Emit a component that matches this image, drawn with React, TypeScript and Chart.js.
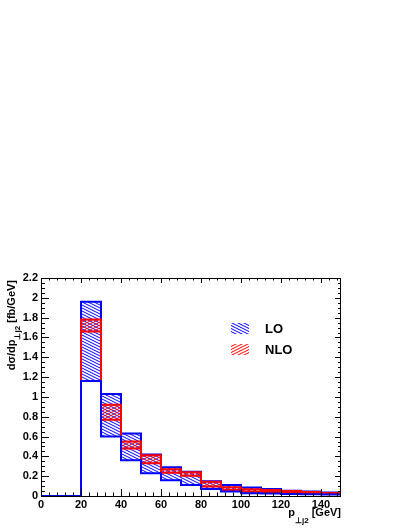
import React, { useEffect, useRef } from 'react';
import { Chart, registerables } from 'chart.js';

Chart.register(...registerables);

// Histogram bin edges (GeV)
const BIN_EDGES = [0, 10, 20, 30, 40, 50, 60, 70, 80, 90, 100, 110, 120, 130, 140, 150];
// LO band (upper / lower edge), fb/GeV
const LO_UP = [0, 0, 1.96, 1.03, 0.63, 0.42, 0.29, 0.245, 0.15, 0.11, 0.085, 0.07, 0.054, 0.045, 0.035];
const LO_LOW = [0, 0, 1.16, 0.6, 0.36, 0.23, 0.16, 0.11, 0.07, 0.045, 0.028, 0.025, 0.02, 0.018, 0.015];
// NLO band (upper / lower edge), fb/GeV
const NLO_UP = [0, 0, 1.78, 0.92, 0.55, 0.41, 0.27, 0.24, 0.145, 0.088, 0.068, 0.06, 0.05, 0.04, 0.03];
const NLO_LOW = [0, 0, 1.66, 0.77, 0.48, 0.33, 0.235, 0.205, 0.095, 0.06, 0.045, 0.04, 0.035, 0.03, 0.025];
// Axis tick labels
const X_TICKS = [0, 20, 40, 60, 80, 100, 120, 140];
const Y_TICKS = ['0', '0.2', '0.4', '0.6', '0.8', '1', '1.2', '1.4', '1.6', '1.8', '2', '2.2'];
const LEGEND_LABELS = ['LO', 'NLO'];

const BLUE = 'rgb(0,0,255)';
const RED = 'rgb(255,0,0)';
const FONT = '"Liberation Sans", Arial, Helvetica, sans-serif';

function makeHatch(ctx: CanvasRenderingContext2D, color: string, dir: 'back' | 'fwd') {
  const w = 6, h = 3;
  const c = document.createElement('canvas');
  c.width = w;
  c.height = h;
  const g = c.getContext('2d')!;
  g.strokeStyle = color;
  g.lineWidth = 1;
  g.beginPath();
  const seg = (x1: number, y1: number, x2: number, y2: number) => { g.moveTo(x1, y1); g.lineTo(x2, y2); };
  if (dir === 'back') {
    for (let k = -1; k <= 1; k++) seg(-2, -1 + k * h, w + 2, w / 2 + 1 + k * h);
  } else {
    for (let k = -1; k <= 1; k++) seg(-2, h + 1 + k * h, w + 2, h - w / 2 - 1 + k * h);
  }
  g.stroke();
  return ctx.createPattern(c, 'repeat')!;
}

const bandData = (low: number[], up: number[]) =>
  low.map((l, i) => ({ x: (BIN_EDGES[i] + BIN_EDGES[i + 1]) / 2, y: [l, up[i]] }));

const stepData = (vals: number[]) =>
  BIN_EDGES.map((e, i) => ({ x: e, y: vals[Math.min(i, vals.length - 1)] }));

export default function App() {
  const ref = useRef<HTMLCanvasElement>(null);

  useEffect(() => {
    document.body.style.margin = '0';
    const canvas = ref.current!;
    const ctx = canvas.getContext('2d')!;
    const blueHatch = makeHatch(ctx, BLUE, 'back');
    const redHatch = makeHatch(ctx, RED, 'fwd');

    const decor = {
      id: 'rootDecor',
      afterDraw(chart: any) {
        const c = chart.ctx as CanvasRenderingContext2D;
        const a = chart.chartArea;
        const xs = chart.scales.x;
        const ys = chart.scales.y;
        const L = Math.round(a.left), R = Math.round(a.right);
        const T = Math.round(a.top), B = Math.round(a.bottom);
        c.save();
        c.strokeStyle = '#000';
        c.lineWidth = 1;
        c.strokeRect(L + 0.5, T + 0.5, R - L - 1, B - T);
        c.beginPath();
        for (let i = 0; i * 4 <= 150; i++) {
          const v = i * 4;
          const px = Math.round(xs.getPixelForValue(v)) + 0.5;
          const major = v % 20 === 0;
          c.moveTo(px, B); c.lineTo(px, B - (major ? 7 : 3.5));
          c.moveTo(px, T); c.lineTo(px, T + (major ? 5 : 2.5));
        }
        for (let i = 0; i <= 44; i++) {
          const v = i * 0.05;
          const py = Math.round(ys.getPixelForValue(v)) + 0.5;
          const major = i % 4 === 0;
          c.moveTo(L, py); c.lineTo(L + (major ? 8 : 4), py);
          c.moveTo(R, py); c.lineTo(R - (major ? 6 : 3), py);
        }
        c.stroke();

        // Legend
        const lx = 231, lw = 18, lh = 11;
        const items = [
          { label: LEGEND_LABELS[0], pat: blueHatch, y: 323 },
          { label: LEGEND_LABELS[1], pat: redHatch, y: 344 },
        ];
        c.font = `bold 13px ${FONT}`;
        c.textBaseline = 'middle';
        c.textAlign = 'left';
        items.forEach((it) => {
          c.fillStyle = it.pat as any;
          c.fillRect(lx, it.y, lw, lh);
          c.fillStyle = '#000';
          c.fillText(it.label, 265, it.y + lh / 2 + 1);
        });

        // Axis titles with subscripts
        const main = `bold 11px ${FONT}`;
        const sub = `bold 8px ${FONT}`;
        c.textBaseline = 'alphabetic';
        c.fillStyle = '#000';
        c.font = main;
        const p1 = 'p';
        const p3 = ' [GeV]';
        const w1 = c.measureText(p1).width;
        const w3 = c.measureText(p3).width;
        c.font = sub;
        const p2 = '\u22a5j2';
        const w2 = c.measureText(p2).width;
        const x0 = R - (w1 + w2 + w3);
        c.font = main;
        c.fillText(p1, x0, 516);
        c.font = sub;
        c.fillText(p2, x0 + w1, 523);
        c.font = main;
        c.fillText(p3, x0 + w1 + w2, 516);

        c.save();
        c.translate(15, T + 2);
        c.rotate(-Math.PI / 2);
        c.font = main;
        const q1 = 'd\u03c3/dp';
        const q3 = ' [fb/GeV]';
        const v1 = c.measureText(q1).width;
        const v3 = c.measureText(q3).width;
        c.font = sub;
        const v2 = c.measureText(p2).width;
        const s0 = -(v1 + v2 + v3);
        c.font = main;
        c.fillText(q1, s0, 0);
        c.font = sub;
        c.fillText(p2, s0 + v1, 5);
        c.font = main;
        c.fillText(q3, s0 + v1 + v2, 0);
        c.restore();
        c.restore();
      },
    };

    const lineDs = (label: string, vals: number[], color: string, order: number) => ({
      type: 'line' as const,
      label,
      data: stepData(vals),
      stepped: 'before' as const,
      borderColor: color,
      borderWidth: 2,
      pointRadius: 0,
      fill: false,
      order,
    });

    const barDs = (label: string, low: number[], up: number[], pat: CanvasPattern, order: number) => ({
      type: 'bar' as const,
      label,
      data: bandData(low, up) as any,
      backgroundColor: pat as any,
      borderWidth: 0,
      grouped: false,
      barPercentage: 1,
      categoryPercentage: 1,
      order,
    });

    const chart = new Chart(canvas, {
      type: 'bar',
      data: {
        datasets: [
          lineDs('LO low', LO_LOW, BLUE, 0),
          lineDs('NLO up', NLO_UP, RED, 1),
          lineDs('NLO low', NLO_LOW, RED, 2),
          lineDs('LO up', LO_UP, BLUE, 3),
          barDs('NLO', NLO_LOW, NLO_UP, redHatch, 4),
          barDs('LO', LO_LOW, LO_UP, blueHatch, 5),
        ] as any,
      },
      options: {
        responsive: false,
        animation: false,
        devicePixelRatio: 1,
        layout: { padding: { left: 0, right: 68, top: 278, bottom: 0 } },
        plugins: { legend: { display: false }, tooltip: { enabled: false } },
        scales: {
          x: {
            type: 'linear',
            min: 0,
            max: 150,
            offset: false,
            grid: { display: false, drawTicks: false },
            border: { display: false },
            afterFit: (s: any) => { s.height = 33; },
            afterBuildTicks: (s: any) => { s.ticks = X_TICKS.map((v) => ({ value: v })); },
            ticks: {
              autoSkip: false,
              maxRotation: 0,
              padding: 2,
              color: '#000',
              font: { family: FONT, size: 11, weight: 'bold' },
              callback: (v: any) => String(v),
            },
          },
          y: {
            type: 'linear',
            min: 0,
            max: 2.2,
            grid: { display: false, drawTicks: false },
            border: { display: false },
            afterFit: (s: any) => { s.width = 41; },
            afterBuildTicks: (s: any) => { s.ticks = Y_TICKS.map((t) => ({ value: parseFloat(t) })); },
            ticks: {
              autoSkip: false,
              padding: 3,
              color: '#000',
              font: { family: FONT, size: 11, weight: 'bold' },
              callback: (_v: any, i: number) => Y_TICKS[i],
            },
          },
        },
      } as any,
      plugins: [decor],
    });
    return () => chart.destroy();
  }, []);

  return (
    <div style={{ width: 409, height: 529 }}>
      <canvas ref={ref} width={409} height={529} style={{ width: 409, height: 529, display: 'block' }} />
    </div>
  );
}
